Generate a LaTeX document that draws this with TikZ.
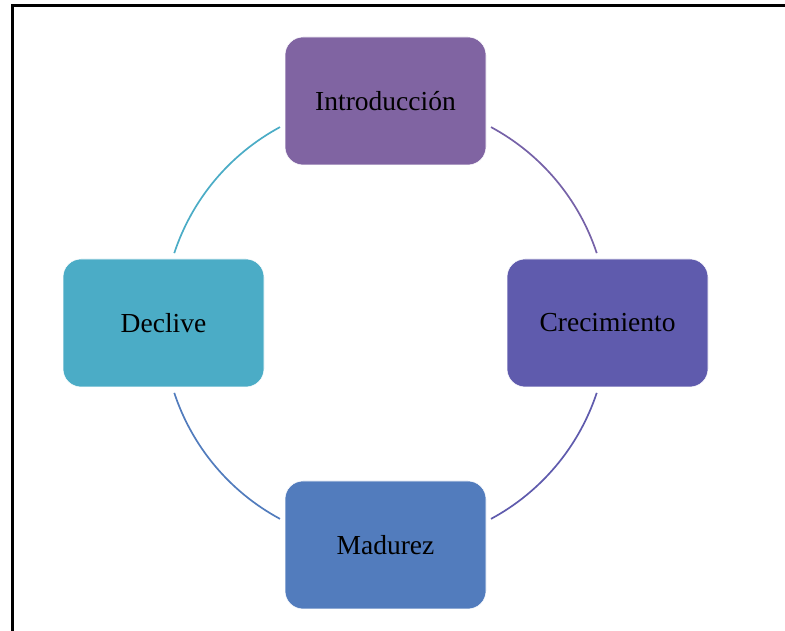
\documentclass[tikz,border=0pt]{standalone}
\usepackage{fontspec}
\setmainfont{Liberation Serif}
\usepackage{tikz}
\usetikzlibrary{positioning,calc}
\definecolor{introcol}{HTML}{8064A2}
\definecolor{creccol}{HTML}{5F5BAD}
\definecolor{madurcol}{HTML}{527CBD}
\definecolor{declcol}{HTML}{4BACC6}
\definecolor{arcuno}{HTML}{7662A8}

\begin{document}
\begin{tikzpicture}[x=1pt,y=1pt,
			fase/.style={draw=white,line width=0.6pt,rounded corners=18pt,minimum width=201pt,minimum height=128pt,inner sep=0pt,align=center,font=\fontsize{27.5}{33}\selectfont},
			ciclo/.style={line width=1.7pt}
			]
			\useasboundingbox (0,0) rectangle (785,631);
			\draw[line width=3pt] (12,0) -- (12,625) -- (785,625);
			\coordinate (ctr) at (385.5,308);
			\node[fase,fill=introcol] (intro) at (385.5,530) {Introducci\'on};
			\node[fase,fill=creccol] (crec) at (607.5,308) {Crecimiento};
			\node[fase,fill=madurcol] (madur) at (385.5,86) {Madurez};
			\node[fase,fill=declcol] (decl) at (163.5,308) {Declive};
			% arcos del ciclo
			\foreach \ang/\col in {61.7/arcuno,-18.3/creccol,-118.3/madurcol,161.7/declcol}
				\draw[ciclo,\col] (ctr) ++(\ang:222.5) arc[start angle=\ang,delta angle=-43.4,radius=222.5];
		\end{tikzpicture}
\end{document}
